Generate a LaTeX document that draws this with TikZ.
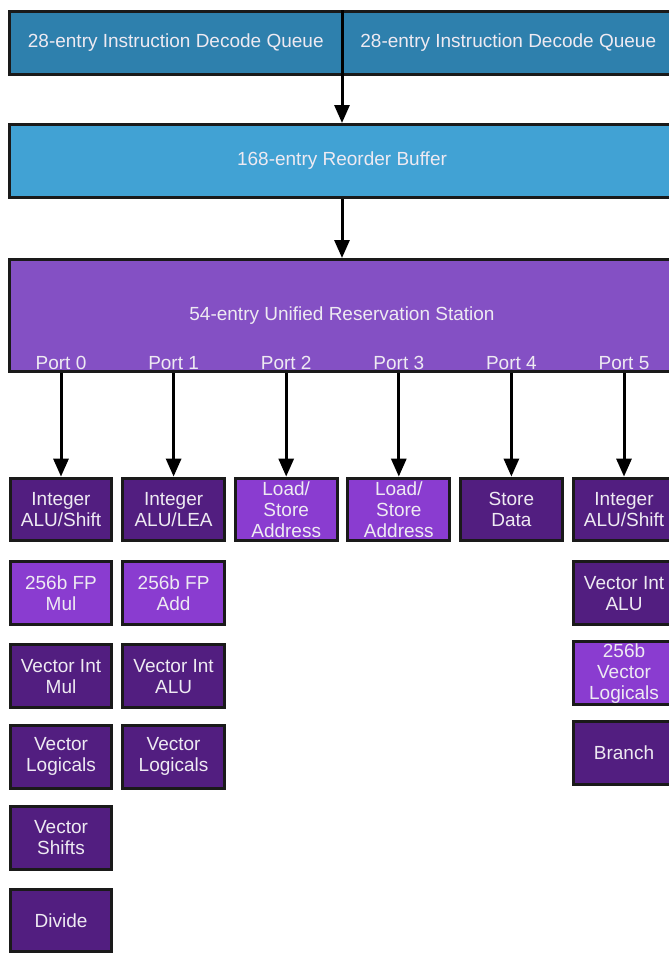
\documentclass[tikz,border=0pt]{standalone}
\usepackage{fontspec}
\setmainfont{Liberation Sans}
\usetikzlibrary{positioning,arrows.meta}
\definecolor{queueblue}{HTML}{2E80AD}
\definecolor{robblue}{HTML}{41A2D4}
\definecolor{rspurple}{HTML}{8450C4}
\definecolor{unitdark}{HTML}{521E80}
\definecolor{unitlight}{HTML}{8A3CD0}
\definecolor{edgegray}{HTML}{1A1A1A}
\definecolor{labelwhite}{HTML}{EEEAF2}
\tikzset{>={Triangle[length=18pt,width=15pt]}}
\tikzset{
  block/.style={draw=edgegray, line width=3pt, text=labelwhite, inner sep=0pt,
    font=\fontsize{19}{21}\selectfont},
  unit/.style={block, line width=3pt, minimum width=101.8pt, minimum height=62.8pt,
    fill=unitdark, align=center},
  unitlt/.style={unit, fill=unitlight},
  portlbl/.style={text=labelwhite, inner sep=3pt, font=\fontsize{19}{21}\selectfont},
  flow/.style={->, line width=3pt, black},
}
\begin{document}
\begin{tikzpicture}[x=1pt, y=-1pt]
  \useasboundingbox (0,0) rectangle (669,953);

  % Nodes
  \node[block, fill=queueblue, minimum width=332.5pt, minimum height=63pt]
    (dq1) at (175.75,43) {28-entry Instruction Decode Queue};
  \node[block, fill=queueblue, minimum width=332.5pt, minimum height=63pt]
    (dq2) at (508.25,43) {28-entry Instruction Decode Queue};
  \node[block, fill=robblue, minimum width=665pt, minimum height=73pt]
    (rob) at (342,161) {168-entry Reorder Buffer};
  \node[block, fill=rspurple, minimum width=665pt, minimum height=112pt]
    (rs) at (342,315.5) {54-entry Unified Reservation Station};

  % Port 0 .. 5
  \node[unit]                          (alu0) at (61,509.5) {Integer\\ALU/Shift};
  \node[unit, right=7.8pt of alu0]     (alu1)   {Integer\\ALU/LEA};
  \node[unitlt, right=7.8pt of alu1]   (lsa2)   {Load/\\Store\\Address};
  \node[unitlt, right=7.8pt of lsa2]   (lsa3)   {Load/\\Store\\Address};
  \node[unit, right=7.8pt of lsa3]     (sd4)    {Store\\Data};
  \node[unit, right=7.8pt of sd4]      (alu5)   {Integer\\ALU/Shift};

  \node[portlbl, anchor=south] (p0) at (alu0 |- rs.south) {Port 0};
  \node[portlbl, anchor=south] (p1) at (alu1 |- rs.south) {Port 1};
  \node[portlbl, anchor=south] (p2) at (lsa2 |- rs.south) {Port 2};
  \node[portlbl, anchor=south] (p3) at (lsa3 |- rs.south) {Port 3};
  \node[portlbl, anchor=south] (p4) at (sd4 |- rs.south)  {Port 4};
  \node[portlbl, anchor=south] (p5) at (alu5 |- rs.south) {Port 5};

  % Port 0 column
  \node[unitlt, below=18pt of alu0]    (fpmul)  {256b FP\\Mul};
  \node[unit, below=17pt of fpmul]     (vimul)  {Vector Int\\Mul};
  \node[unit, below=15pt of vimul]     (vlog0)  {Vector\\Logicals};
  \node[unit, below=15pt of vlog0]     (vshift) {Vector\\Shifts};
  \node[unit, below=17pt of vshift]    (div)    {Divide};

  % Port 1 column
  \node[unitlt, below=18pt of alu1]    (fpadd)  {256b FP\\Add};
  \node[unit, below=17pt of fpadd]     (vialu1) {Vector Int\\ALU};
  \node[unit, below=15pt of vialu1]    (vlog1)  {Vector\\Logicals};

  % Port 5 column
  \node[unit, below=18pt of alu5]      (vialu5) {Vector Int\\ALU};
  \node[unitlt, below=14pt of vialu5]  (vlog5)  {256b\\Vector\\Logicals};
  \node[unit, below=14pt of vlog5]     (branch) {Branch};

  % Edges
  \draw[flow] (rob.north |- dq1.north) -- (rob);
  \draw[flow] (rob) -- (rs);
  \draw[flow] (p0) -- (alu0);
  \draw[flow] (p1) -- (alu1);
  \draw[flow] (p2) -- (lsa2);
  \draw[flow] (p3) -- (lsa3);
  \draw[flow] (p4) -- (sd4);
  \draw[flow] (p5) -- (alu5);

\end{tikzpicture}
\end{document}
